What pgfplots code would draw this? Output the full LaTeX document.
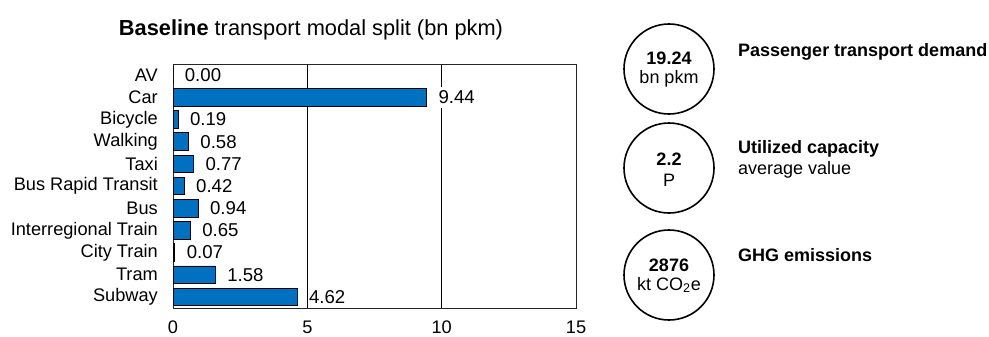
\documentclass[border=0pt]{standalone}
\usepackage{pgfplots}
\pgfplotsset{compat=1.18}
\usepackage{fontspec}
\setmainfont{Liberation Sans}
\definecolor{barblue}{RGB}{0,112,192}

\newcommand{\fs}[1]{\fontsize{#1bp}{#1bp}\selectfont}

\begin{document}
\begin{tikzpicture}[x=1bp,y=1bp]
\path[use as bounding box] (0,0) rectangle (989,336);

\begin{axis}[
  at={(173bp,28bp)}, anchor=south west,
  width=403bp, height=244bp, scale only axis,
  xbar, bar width=17.5bp,
  xmin=0, xmax=15, xtick={0,5,10,15},
  ymin=-0.5, ymax=10.5, y dir=reverse,
  ytick={0,...,10},
  yticklabels={AV,Car,Bicycle,Walking,Taxi,Bus Rapid Transit,Bus,Interregional Train,City Train,Tram,Subway},
  major tick length=0pt,
  xmajorgrids, grid style={black, line width=1bp},
  axis line style={black!85, line width=1bp},
  /pgf/number format/assume math mode=true,
  tick label style={font=\fs{18.2}, text=black},
  yticklabel style={anchor=east, inner xsep=0pt, xshift=-15bp},
  xticklabel style={anchor=north, inner ysep=0pt, yshift=-13bp},
  point meta=x,
  nodes near coords={\pgfmathprintnumber[fixed,zerofill,precision=2]{\pgfplotspointmeta}},
  every node near coord/.append style={anchor=west, fill=white, inner xsep=0.5bp,
    inner ysep=4bp, xshift=11bp, font=\fs{18.6}, text=black},
]
\addplot[fill=barblue, draw=black, line width=0.8bp] coordinates {
  (0.00,0) (9.44,1) (0.19,2) (0.58,3) (0.77,4) (0.42,5)
  (0.94,6) (0.65,7) (0.07,8) (1.58,9) (4.62,10)
};
\end{axis}

% title
\node[anchor=base, inner sep=0pt, font=\fs{21.8}] at (311,301)
  {\textbf{Baseline} transport modal split (bn pkm)};

% key figures
\begin{scope}[line width=1.6bp]
  \draw (669,267) circle (45);
  \draw (669,168) circle (45);
  \draw (669,61) circle (45);
\end{scope}
\begin{scope}[every node/.style={anchor=base, inner sep=0pt, font=\fs{18}}]
  \node at (669,272) {\textbf{19.24}};
  \node at (669,253) {bn pkm};
  \node at (669,171) {\textbf{2.2}};
  \node at (669,150) {P};
  \node at (669,65) {\textbf{2876}};
  \node at (669,46) {kt CO\textsubscript{2}e};
\end{scope}
\begin{scope}[every node/.style={anchor=base west, inner sep=0pt, font=\fs{18}}]
  \node at (738,280) {\textbf{Passenger transport demand}};
  \node at (738,183) {\textbf{Utilized capacity}};
  \node at (738,162) {average value};
  \node at (738,75) {\textbf{GHG emissions}};
\end{scope}
\end{tikzpicture}
\end{document}
